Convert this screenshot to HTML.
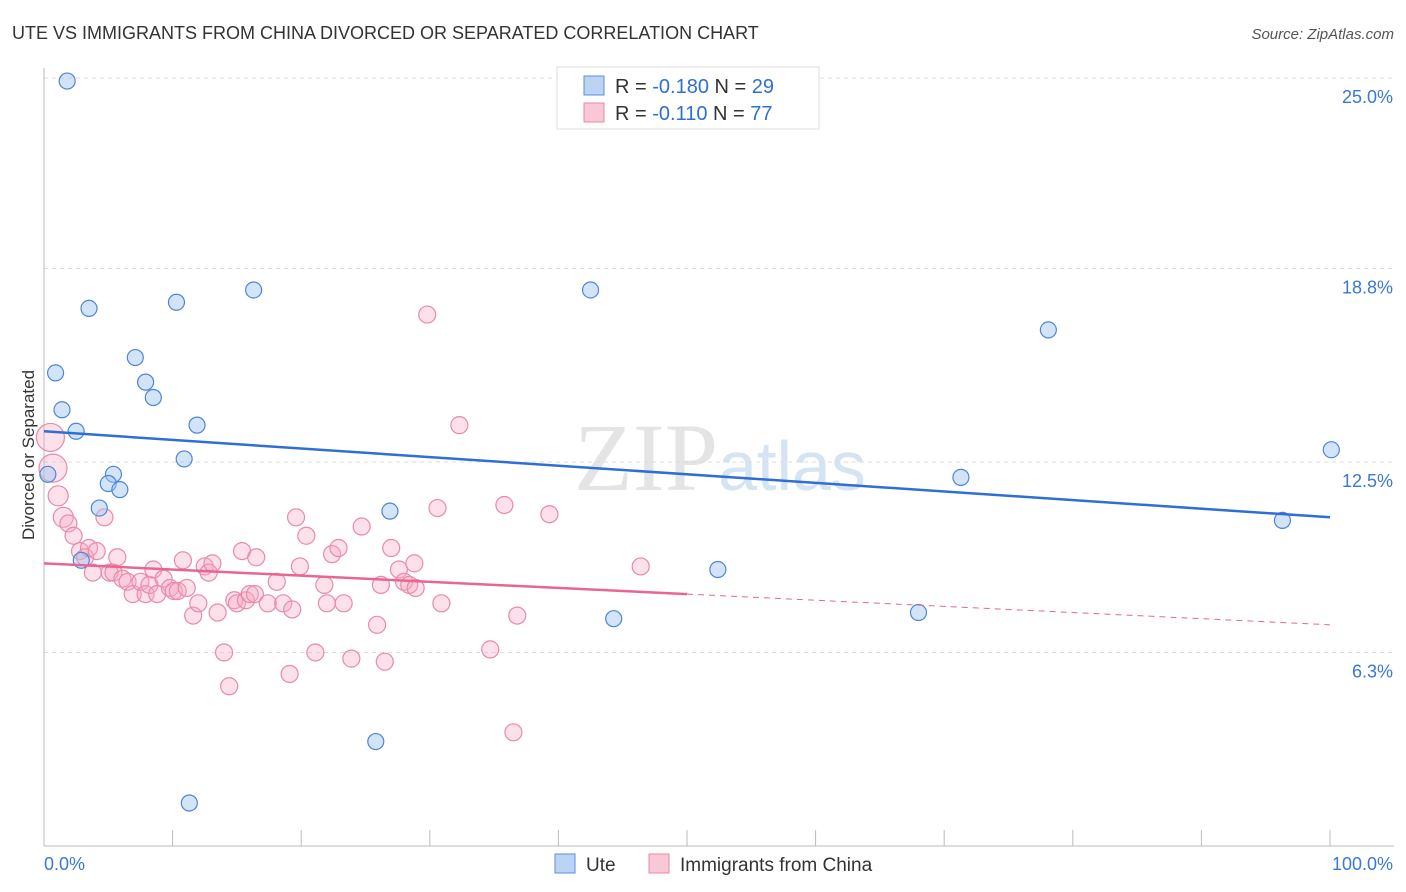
<!DOCTYPE html>
<html><head><meta charset="utf-8"><style>
body{margin:0;background:#fff;font-family:"Liberation Sans",sans-serif;}
svg{display:block}
</style></head><body>
<svg id="chart" width="1406" height="892" xmlns="http://www.w3.org/2000/svg">
<text x="12" y="39" font-size="18" fill="#333">UTE VS IMMIGRANTS FROM CHINA DIVORCED OR SEPARATED CORRELATION CHART</text>
<text x="1394" y="39" font-size="15" fill="#555" font-style="italic" text-anchor="end">Source: ZipAtlas.com</text>
<text x="720" y="490" font-size="96" text-anchor="middle" fill="#e4e4e4" font-family="Liberation Serif,serif">ZIP<tspan fill="#d6e3f3" font-family="Liberation Sans,sans-serif" font-size="70">atlas</tspan></text>
<text transform="translate(34,455) rotate(-90)" font-size="17" fill="#333" text-anchor="middle">Divorced or Separated</text>
<g id="grid"></g><g id="marks"></g>
<g>
<rect x="557" y="67" width="262" height="62" fill="#fff" stroke="#ddd"/>
<rect x="584" y="76" width="20" height="19" fill="#bcd4f4" stroke="#5a8fd8"/>
<rect x="584" y="103" width="20" height="19" fill="#f9c7d5" stroke="#e98aa8"/>
<text x="615" y="93" font-size="20" fill="#333">R = <tspan fill="#2e6fd6">-0.180</tspan>   N = <tspan fill="#2e6fd6">29</tspan></text>
<text x="615" y="120" font-size="20" fill="#333">R = <tspan fill="#2e6fd6"> -0.110</tspan>   N = <tspan fill="#2e6fd6">77</tspan></text>
</g>
<g>
<rect x="555" y="854" width="20" height="19" fill="#bcd4f4" stroke="#5a8fd8"/>
<text x="586" y="871" font-size="19" fill="#333">Ute</text>
<rect x="649" y="854" width="20" height="19" fill="#f9c7d5" stroke="#e98aa8"/>
<text x="680" y="871" font-size="19" fill="#333">Immigrants from China</text>
</g>
</svg>
<script>
const yTicks=[25.0,18.8,12.5,6.3];
const yTickLabels=["25.0%","18.8%","12.5%","6.3%"];
const xTickCount=10;
const uteX=[1.8,0.9,1.4,2.5,0.3,3.5,5.4,5.0,5.9,4.3,2.9,7.1,7.9,8.5,10.3,11.9,10.9,16.3,26.9,42.5,52.4,44.3,25.8,11.3,68.0,78.1,71.3,100.1,96.3];
const uteY=[24.9,15.4,14.2,13.5,12.1,17.5,12.1,11.8,11.6,11.0,9.3,15.9,15.1,14.6,17.7,13.7,12.6,18.1,10.9,18.1,9.0,7.4,3.4,1.4,7.6,16.8,12.0,12.9,10.6];
const chinaX=[0.5,0.7,1.1,1.5,1.9,2.3,2.8,3.2,3.5,4.1,3.8,4.7,5.1,5.4,5.7,6.1,6.5,6.9,7.5,7.9,8.2,8.5,8.8,9.3,9.8,10.1,10.4,10.8,11.1,11.6,12.0,12.5,12.8,13.1,13.5,14.0,14.4,14.8,15.0,15.4,15.7,16.0,16.4,16.5,17.4,18.1,18.6,19.1,19.3,19.6,19.9,20.4,21.1,21.8,22.0,22.4,22.9,23.3,23.9,24.7,25.9,26.2,26.5,27.0,27.6,28.0,28.4,28.8,28.9,29.8,30.6,30.9,32.3,34.7,35.8,36.5,36.8,39.3,46.4];
const chinaY=[13.3,12.3,11.4,10.7,10.5,10.1,9.6,9.4,9.7,9.6,8.9,10.7,8.9,8.9,9.4,8.7,8.6,8.2,8.6,8.2,8.5,9.0,8.2,8.7,8.4,8.3,8.3,9.3,8.4,7.5,7.9,9.1,8.9,9.2,7.6,6.3,5.2,8.0,7.9,9.6,8.0,8.2,8.2,9.4,7.9,8.6,7.9,5.6,7.7,10.7,9.1,10.1,6.3,8.5,7.9,9.5,9.7,7.9,6.1,10.4,7.2,8.5,6.0,9.7,9.0,8.6,8.5,9.2,8.4,17.3,11.0,7.9,13.7,6.4,11.1,3.7,7.5,10.8,9.1];
const uteTrend=[13.5,10.7];
const chinaTrend=[9.2,7.2];
const NS="http://www.w3.org/2000/svg";
const X=v=>44+v*12.86, Y=v=>846-v*30.72;
function mk(t,a,p){const e=document.createElementNS(NS,t);for(const k in a)e.setAttribute(k,a[k]);p.appendChild(e);return e;}
const grid=document.getElementById('grid'),marks=document.getElementById('marks');
yTicks.forEach((t,i)=>{
 const l=mk('line',{x1:44,x2:1394,y1:Y(t),y2:Y(t),stroke:'#ddd','stroke-dasharray':'4,4'},grid);
 
 
 const tx=mk('text',{x:1393,y:Y(t)+25,'font-size':18,fill:'#3a78d4','text-anchor':'end'},grid);
 tx.textContent=yTickLabels[i];
 
 
});
mk('line',{x1:44,x2:44,y1:68,y2:846,stroke:'#bbb'},grid);
mk('line',{x1:44,x2:1394,y1:846,y2:846,stroke:'#bbb'},grid);
for(let i=0;i<=xTickCount;i++){const t=mk('line',{x1:X(i*10),x2:X(i*10),y1:830,y2:846,stroke:'#bbb'},grid);
 
 }
[["0.0%",44,'start'],["100.0%",1393,'end']].forEach(a=>{const t=mk('text',{x:a[1],y:870,'font-size':18,fill:'#3a78d4','text-anchor':a[2]},grid);t.textContent=a[0];
 
 });
chinaX.forEach((x,i)=>{const r=i<2?14:(i<4?10:8.5);
 const c=mk('circle',{cx:X(x),cy:Y(chinaY[i]),r:r,fill:'rgba(246,170,195,0.35)',stroke:'#e98aa8','stroke-width':1.2},marks);
 
 });
uteX.forEach((x,i)=>{const c=mk('circle',{cx:X(x),cy:Y(uteY[i]),r:8,fill:'rgba(160,195,240,0.45)',stroke:'#4a86d8','stroke-width':1.2},marks);
 
 });
const ut=mk('line',{x1:X(0),y1:Y(uteTrend[0]),x2:X(100),y2:Y(uteTrend[1]),stroke:'#2e6fd6','stroke-width':2.5},marks);


const cm=chinaTrend[0]+(chinaTrend[1]-chinaTrend[0])*0.5;
const ct=mk('line',{x1:X(0),y1:Y(chinaTrend[0]),x2:X(50),y2:Y(cm),stroke:'#e8668f','stroke-width':2.5},marks);


const cd=mk('line',{x1:X(50),y1:Y(cm),x2:X(100),y2:Y(chinaTrend[1]),stroke:'#e8668f','stroke-width':1,'stroke-dasharray':'6,5'},marks);


</script>
</body></html>
